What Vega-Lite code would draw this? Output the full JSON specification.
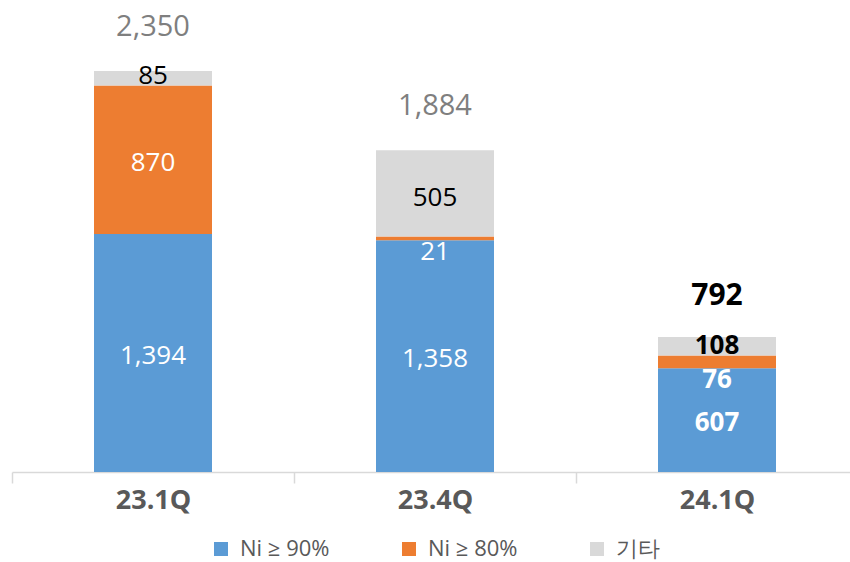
{
  "$schema": "https://vega.github.io/schema/vega-lite/v6.json",
  "width": 846,
  "height": 461,
  "autosize": "none",
  "padding": {"left": 12, "top": 11, "right": 0, "bottom": 90},
  "config": {"view": {"stroke": null}, "font": "Open Sans"},
  "datasets": {
    "seg": [
      {"q": "23.1Q", "type": "Ni ≥ 90%", "value": 1394, "order": 1},
      {"q": "23.1Q", "type": "Ni ≥ 80%", "value": 870, "order": 2},
      {"q": "23.1Q", "type": "기타", "value": 85, "order": 3},
      {"q": "23.4Q", "type": "Ni ≥ 90%", "value": 1358, "order": 1},
      {"q": "23.4Q", "type": "Ni ≥ 80%", "value": 21, "order": 2},
      {"q": "23.4Q", "type": "기타", "value": 505, "order": 3},
      {"q": "24.1Q", "type": "Ni ≥ 90%", "value": 607, "order": 1},
      {"q": "24.1Q", "type": "Ni ≥ 80%", "value": 76, "order": 2},
      {"q": "24.1Q", "type": "기타", "value": 108, "order": 3}
    ],
    "tot": [
      {"q": "23.1Q", "total": 2350},
      {"q": "23.4Q", "total": 1884},
      {"q": "24.1Q", "total": 792}
    ]
  },
  "encoding": {
    "x": {
      "field": "q", "type": "nominal", "sort": ["23.1Q", "23.4Q", "24.1Q"],
      "scale": {"paddingInner": 0, "paddingOuter": 0},
      "axis": {
        "title": null, "labelAngle": 0, "tickBand": "extent",
        "domainColor": "#d9d9d9", "domainWidth": 1.5,
        "tickColor": "#d9d9d9", "tickWidth": 1.5, "tickSize": 11,
        "labelFontSize": 27, "labelFontWeight": "bold", "labelColor": "#595959",
        "labelPadding": 4
      }
    }
  },
  "layer": [
    {
      "data": {"name": "seg"},
      "mark": {"type": "bar", "width": 118},
      "encoding": {
        "y": {"field": "value", "type": "quantitative", "stack": "zero", "scale": {"domain": [0, 2700], "nice": false}, "axis": null},
        "color": {
          "field": "type", "type": "nominal",
          "scale": {"domain": ["Ni ≥ 90%", "Ni ≥ 80%", "기타"], "range": ["#5B9BD5", "#ED7D31", "#D9D9D9"]},
          "legend": {
            "title": null, "orient": "none", "legendX": 198, "legendY": 527, "direction": "horizontal",
            "symbolType": "square", "symbolSize": 196, "symbolStrokeWidth": 0,
            "labelFontSize": 22, "labelColor": "#595959", "labelOffset": 8, "columnPadding": 68, "padding": 0
          }
        },
        "order": {"field": "order"}
      }
    },
    {
      "data": {"name": "seg"},
      "mark": {"type": "text", "fontSize": 26, "baseline": "middle", "dy": 3},
      "encoding": {
        "y": {"field": "value", "type": "quantitative", "stack": "zero", "bandPosition": 0.5},
        "order": {"field": "order"},
        "text": {"condition": {"test": "datum.q !== '24.1Q' && datum.type !== '기타' && datum.value !== 21", "field": "value", "type": "quantitative", "format": ","}, "value": ""},
        "color": {"value": "#ffffff"}
      }
    },
    {
      "data": {"name": "seg"},
      "mark": {"type": "text", "fontSize": 26, "baseline": "middle", "dy": 14},
      "encoding": {
        "y": {"field": "value", "type": "quantitative", "stack": "zero", "bandPosition": 0.5},
        "order": {"field": "order"},
        "text": {"condition": {"test": "datum.q === '23.4Q' && datum.value === 21", "field": "value", "type": "quantitative", "format": ","}, "value": ""},
        "color": {"value": "#ffffff"}
      }
    },
    {
      "data": {"name": "seg"},
      "mark": {"type": "text", "fontSize": 26, "baseline": "middle", "dy": -2},
      "encoding": {
        "y": {"field": "value", "type": "quantitative", "stack": "zero", "bandPosition": 0.5},
        "order": {"field": "order"},
        "text": {"condition": {"test": "datum.q === '23.1Q' && datum.type === '기타'", "field": "value", "type": "quantitative", "format": ","}, "value": ""},
        "color": {"value": "#000000"}
      }
    },
    {
      "data": {"name": "seg"},
      "mark": {"type": "text", "fontSize": 26, "baseline": "middle", "dy": 5},
      "encoding": {
        "y": {"field": "value", "type": "quantitative", "stack": "zero", "bandPosition": 0.5},
        "order": {"field": "order"},
        "text": {"condition": {"test": "datum.q === '23.4Q' && datum.type === '기타'", "field": "value", "type": "quantitative", "format": ","}, "value": ""},
        "color": {"value": "#000000"}
      }
    },
    {
      "data": {"name": "seg"},
      "mark": {"type": "text", "fontSize": 26, "fontWeight": "bold", "baseline": "middle", "dy": 3},
      "encoding": {
        "y": {"field": "value", "type": "quantitative", "stack": "zero", "bandPosition": 0.5},
        "order": {"field": "order"},
        "text": {"condition": {"test": "datum.q === '24.1Q' && datum.type === 'Ni ≥ 90%'", "field": "value", "type": "quantitative", "format": ","}, "value": ""},
        "color": {"value": "#ffffff"}
      }
    },
    {
      "data": {"name": "seg"},
      "mark": {"type": "text", "fontSize": 26, "fontWeight": "bold", "baseline": "middle", "dy": 18},
      "encoding": {
        "y": {"field": "value", "type": "quantitative", "stack": "zero", "bandPosition": 0.5},
        "order": {"field": "order"},
        "text": {"condition": {"test": "datum.q === '24.1Q' && datum.type === 'Ni ≥ 80%'", "field": "value", "type": "quantitative", "format": ","}, "value": ""},
        "color": {"value": "#ffffff"}
      }
    },
    {
      "data": {"name": "seg"},
      "mark": {"type": "text", "fontSize": 26, "fontWeight": "bold", "baseline": "middle", "dy": 0},
      "encoding": {
        "y": {"field": "value", "type": "quantitative", "stack": "zero", "bandPosition": 0.5},
        "order": {"field": "order"},
        "text": {"condition": {"test": "datum.q === '24.1Q' && datum.type === '기타'", "field": "value", "type": "quantitative", "format": ","}, "value": ""},
        "color": {"value": "#000000"}
      }
    },
    {
      "data": {"name": "tot"},
      "mark": {"type": "text", "fontSize": 29, "baseline": "alphabetic", "dy": -35},
      "encoding": {
        "y": {"field": "total", "type": "quantitative"},
        "text": {"condition": {"test": "datum.q !== '24.1Q'", "field": "total", "type": "quantitative", "format": ","}, "value": ""},
        "color": {"value": "#7F7F7F"}
      }
    },
    {
      "data": {"name": "tot"},
      "mark": {"type": "text", "fontSize": 30, "fontWeight": "bold", "baseline": "alphabetic", "dy": -32},
      "encoding": {
        "y": {"field": "total", "type": "quantitative"},
        "text": {"condition": {"test": "datum.q === '24.1Q'", "field": "total", "type": "quantitative", "format": ","}, "value": ""},
        "color": {"value": "#000000"}
      }
    }
  ]
}
